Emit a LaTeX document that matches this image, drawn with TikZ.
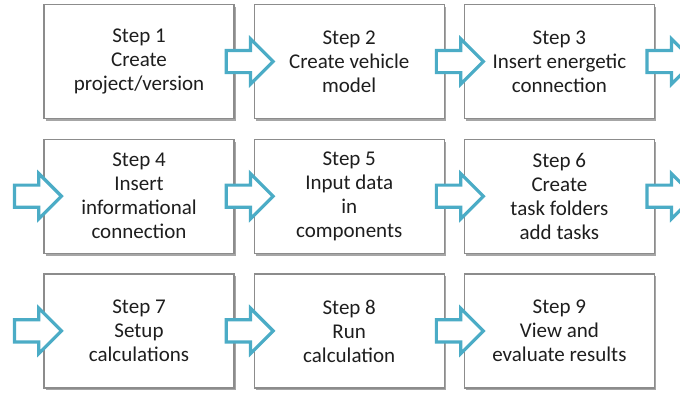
\documentclass[tikz,border=0pt]{standalone}
\usepackage{fontspec}
\setmainfont{Carlito}
\usetikzlibrary{shapes,arrows,positioning,calc,shadows}
\definecolor{arrowblue}{RGB}{75,172,198}
\definecolor{boxgray}{RGB}{140,140,140}
\definecolor{textgray}{RGB}{30,30,30}

\begin{document}
\begin{tikzpicture}[
    node distance=19pt,
    every node/.style={font=\fontsize{21}{24}\selectfont, text=textgray},
    stepbox/.style={rectangle, draw=boxgray, line width=1.2pt, fill=white, minimum width=190pt, minimum height=114pt, align=center, drop shadow={shadow xshift=2pt, shadow yshift=-2.5pt, fill=black, opacity=0.35}},
    flow/.style={single arrow, draw=arrowblue, line width=3.2pt, fill=white, minimum height=47pt, inner sep=9.5pt, single arrow head extend=11.5pt}
]
\useasboundingbox (0,0) rectangle (680pt,-392pt);

% First row
\node[stepbox] (step1) at (139pt,-61.5pt) {Step 1\\Create\\project/version};
\node[stepbox, right=of step1] (step2) {Step 2\\Create vehicle\\model};
\node[stepbox, right=of step2] (step3) {Step 3\\Insert energetic\\connection};

% Second row
\node[stepbox, below=19.5pt of step1] (step4) {Step 4\\Insert\\informational\\connection};
\node[stepbox, right=of step4] (step5) {Step 5\\Input data\\in\\components};
\node[stepbox, right=of step5] (step6) {Step 6\\Create\\task folders\\add tasks};

% Third row
\node[stepbox, below=19.5pt of step4] (step7) {Step 7\\Setup\\calculations};
\node[stepbox, right=of step7] (step8) {Step 8\\Run\\calculation};
\node[stepbox, right=of step8] (step9) {Step 9\\View and\\evaluate results};

% Arrows between steps
\node[flow] (a12) at ($(step1.east)!0.5!(step2.west)$) {};
\node[flow] (a23) at ($(step2.east)!0.5!(step3.west)$) {};
\node[flow] (a45) at ($(step4.east)!0.5!(step5.west)$) {};
\node[flow] (a56) at ($(step5.east)!0.5!(step6.west)$) {};
\node[flow] (a78) at ($(step7.east)!0.5!(step8.west)$) {};
\node[flow] (a89) at ($(step8.east)!0.5!(step9.west)$) {};

% Arrows leaving and entering rows
\node[flow] (a3out) at ($(step3.east)+(10pt,0)$) {};
\node[flow] (a4in) at ($(step4.west)+(-11pt,0)$) {};
\node[flow] (a6out) at ($(step6.east)+(10pt,0)$) {};
\node[flow] (a7in) at ($(step7.west)+(-11pt,0)$) {};

\end{tikzpicture}
\end{document}
